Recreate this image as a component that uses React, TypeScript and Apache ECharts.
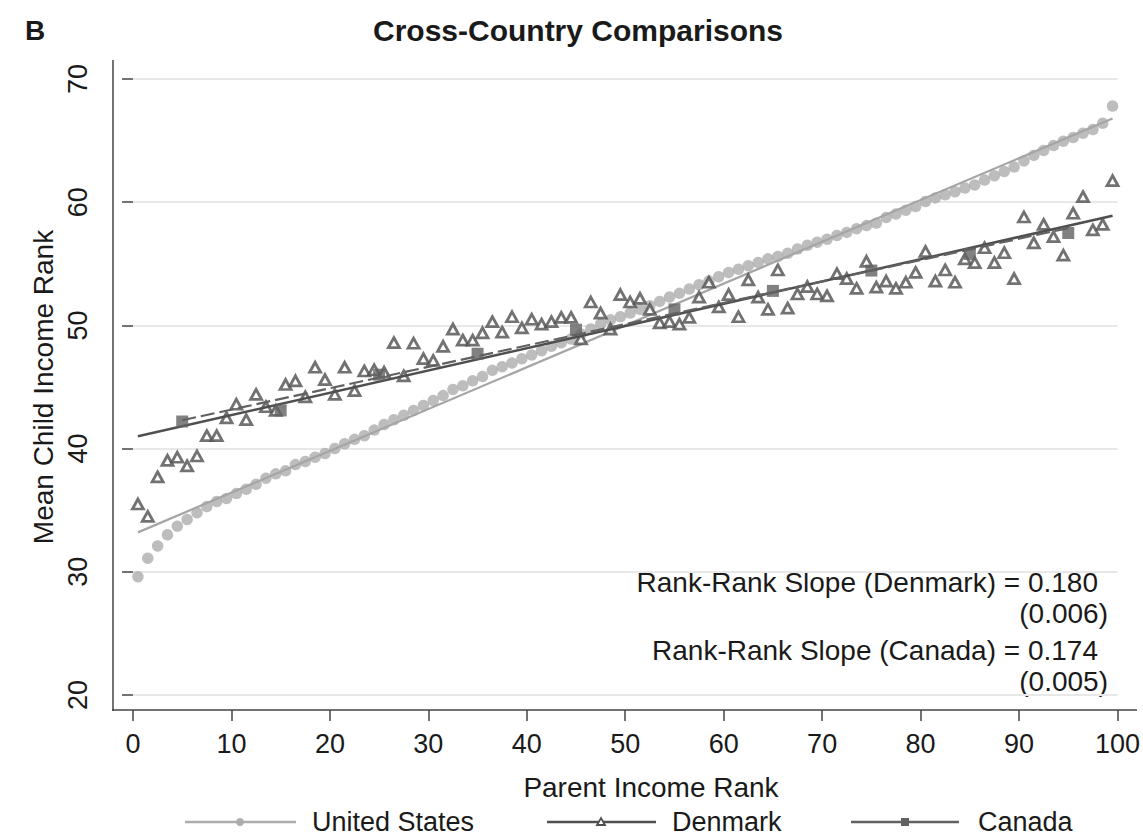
import React, { useEffect, useRef } from "react";
import * as echarts from "echarts";

// Parent income percentiles (plotted at bin mid-points)
const parentRanks: number[] = Array.from({ length: 100 }, (_, i) => i + 0.5);

const usValues: number[] = [
  29.6, 31.1, 32.1, 33.0, 33.7, 34.25, 34.8, 35.3, 35.7, 35.95,
  36.35, 36.7, 37.1, 37.6, 37.95, 38.2, 38.7, 38.95, 39.3, 39.6,
  40.0, 40.4, 40.75, 41.05, 41.5, 41.95, 42.35, 42.7, 43.1, 43.5,
  43.9, 44.3, 44.8, 45.1, 45.5, 45.85, 46.35, 46.65, 46.95, 47.3,
  47.6, 47.95, 48.3, 48.6, 48.9, 49.3, 49.7, 50.1, 50.45, 50.7,
  51.0, 51.3, 51.6, 51.95, 52.3, 52.6, 52.95, 53.3, 53.6, 53.95,
  54.3, 54.55, 54.85, 55.1, 55.4, 55.6, 55.85, 56.2, 56.5, 56.75,
  57.0, 57.3, 57.55, 57.85, 58.1, 58.3, 58.75, 59.05, 59.35, 59.65,
  60.05, 60.35, 60.6, 60.85, 61.15, 61.4, 61.8, 62.15, 62.5, 62.85,
  63.35, 63.8, 64.2, 64.6, 64.95, 65.25, 65.6, 65.9, 66.4, 67.8,
];

const denmarkValues: number[] = [
  35.5, 34.5, 37.7, 39.05, 39.3, 38.6, 39.4, 41.05, 41.05, 42.5,
  43.6, 42.35, 44.4, 43.4, 43.1, 45.2, 45.5, 44.2, 46.6, 45.6,
  44.4, 46.6, 44.7, 46.3, 46.4, 46.2, 48.6, 45.9, 48.55, 47.3,
  47.15, 48.3, 49.7, 48.8, 48.8, 49.4, 50.3, 49.45, 50.7, 49.8,
  50.5, 50.1, 50.3, 50.65, 50.65, 48.9, 51.9, 51.0, 49.7, 52.5,
  51.9, 52.2, 51.3, 50.2, 50.3, 50.1, 50.65, 52.3, 53.5, 51.5,
  52.5, 50.7, 53.7, 52.3, 51.3, 54.5, 51.4, 52.55, 53.15, 52.55,
  52.4, 54.2, 53.8, 53.0, 55.2, 53.1, 53.6, 53.0, 53.5, 54.3,
  56.0, 53.6, 54.5, 53.5, 55.4, 55.1, 56.3, 55.1, 55.9, 53.8,
  58.8, 56.7, 58.2, 57.2, 55.7, 59.1, 60.45, 57.75, 58.2, 61.75,
];

const canadaRanks: number[] = [5, 15, 25, 35, 45, 55, 65, 75, 85, 95];
const canadaValues: number[] = [42.2, 43.1, 46.0, 47.7, 49.65, 51.3, 52.8, 54.45, 55.8, 57.5];

// Fitted lines (end points)
const usFit: number[][] = [[0.5, 33.2], [99.5, 66.8]];
const denmarkFit: number[][] = [[0.5, 41.0], [99.5, 58.9]];
const canadaFit: number[][] = [[5, 42.3], [95, 57.9]];

const seriesNames: string[] = ["United States", "Denmark", "Canada"];
const titleText = "Cross-Country Comparisons";
const panelLetter = "B";
const xAxisTitle = "Parent Income Rank";
const yAxisTitle = "Mean Child Income Rank";
const annotations: string[] = [
  "Rank-Rank Slope (Denmark) = 0.180",
  "(0.006)",
  "Rank-Rank Slope (Canada) = 0.174",
  "(0.005)",
];

const FONT = "'Liberation Sans', Arial, Helvetica, sans-serif";
const US_COLOR = "#adadad";
const DK_COLOR = "#4f4f4f";
const CA_COLOR = "#616161";
const TEXT_COLOR = "#1a1a1a";

export default function App() {
  const ref = useRef<HTMLDivElement>(null);

  useEffect(() => {
    if (!ref.current) return;
    const chart = echarts.init(ref.current, undefined, { renderer: "svg" });

    const legendY = 822;
    const legendItems = [
      { x1: 185, x2: 296, mx: 240, tx: 312, color: US_COLOR, kind: "circle", name: seriesNames[0] },
      { x1: 547, x2: 656, mx: 601, tx: 672, color: DK_COLOR, kind: "triangle", name: seriesNames[1] },
      { x1: 851, x2: 959, mx: 905, tx: 978, color: CA_COLOR, kind: "square", name: seriesNames[2] },
    ];
    const legendGraphics: any[] = [];
    legendItems.forEach((it) => {
      legendGraphics.push({
        type: "line",
        shape: { x1: it.x1, y1: legendY, x2: it.x2, y2: legendY },
        style: { stroke: it.color, lineWidth: 2.5 },
      });
      if (it.kind === "circle") {
        legendGraphics.push({ type: "circle", shape: { cx: it.mx, cy: legendY, r: 4 }, style: { fill: it.color } });
      } else if (it.kind === "triangle") {
        legendGraphics.push({
          type: "polygon",
          shape: { points: [[it.mx - 4, legendY + 3], [it.mx + 4, legendY + 3], [it.mx, legendY - 4]] },
          style: { fill: "#fff", stroke: it.color, lineWidth: 1.8 },
        });
      } else {
        legendGraphics.push({ type: "rect", shape: { x: it.mx - 4, y: legendY - 4, width: 8, height: 8 }, style: { fill: it.color } });
      }
      legendGraphics.push({
        type: "text",
        x: it.tx,
        y: legendY,
        style: { text: it.name, font: `27px ${FONT}`, fill: TEXT_COLOR, textAlign: "left", textVerticalAlign: "middle" },
      });
    });

    const option: any = {
      animation: false,
      backgroundColor: "#ffffff",
      grid: { left: 133, right: 25, top: 79, bottom: 141, containLabel: false },
      xAxis: {
        type: "value",
        min: 0,
        max: 100,
        interval: 10,
        offset: 15,
        axisLine: { show: false },
        axisTick: { show: true, length: 11, lineStyle: { color: "#444", width: 1.5 } },
        axisLabel: { margin: 20, fontSize: 27, fontFamily: FONT, color: TEXT_COLOR },
        splitLine: { show: false },
      },
      yAxis: {
        type: "value",
        min: 20,
        max: 70,
        interval: 10,
        offset: 20,
        axisLine: { show: false },
        axisTick: { show: true, length: 11, lineStyle: { color: "#444", width: 1.5 } },
        axisLabel: { margin: 22, fontSize: 27, fontFamily: FONT, color: TEXT_COLOR, rotate: 90 },
        splitLine: { show: true, lineStyle: { color: "#e8e8e8", width: 2 } },
      },
      series: [
        {
          name: seriesNames[0],
          type: "scatter",
          data: parentRanks.map((r, i) => [r, usValues[i]]),
          symbol: "circle",
          symbolSize: 11.5,
          itemStyle: { color: US_COLOR },
          z: 2,
        },
        {
          name: seriesNames[0] + " fit",
          type: "line",
          data: usFit,
          showSymbol: false,
          symbol: "none",
          lineStyle: { color: "#a5a5a5", width: 2.2 },
          z: 3,
        },
        {
          name: seriesNames[1],
          type: "scatter",
          data: parentRanks.map((r, i) => [r, denmarkValues[i]]),
          symbol: "triangle",
          symbolSize: [11, 10],
          itemStyle: { color: "#ffffff", borderColor: DK_COLOR, borderWidth: 2.8 },
          z: 4,
        },
        {
          name: seriesNames[1] + " fit",
          type: "line",
          data: denmarkFit,
          showSymbol: false,
          symbol: "none",
          lineStyle: { color: DK_COLOR, width: 2.5 },
          z: 5,
        },
        {
          name: seriesNames[2],
          type: "scatter",
          data: canadaRanks.map((r, i) => [r, canadaValues[i]]),
          symbol: "rect",
          symbolSize: 12,
          itemStyle: { color: CA_COLOR },
          z: 6,
        },
        {
          name: seriesNames[2] + " fit",
          type: "line",
          data: canadaFit,
          showSymbol: false,
          symbol: "none",
          lineStyle: { color: CA_COLOR, width: 2.2, type: [14, 5] },
          z: 7,
        },
      ],
      graphic: [
        // axis frame lines
        { type: "line", shape: { x1: 113, y1: 60, x2: 113, y2: 711 }, style: { stroke: "#444", lineWidth: 1.5 } },
        { type: "line", shape: { x1: 112, y1: 710, x2: 1137, y2: 710 }, style: { stroke: "#444", lineWidth: 1.5 } },
        {
          type: "text", x: 25, y: 30,
          style: { text: panelLetter, font: `bold 28px ${FONT}`, fill: TEXT_COLOR, textVerticalAlign: "middle" },
        },
        {
          type: "text", x: 578, y: 30,
          style: { text: titleText, font: `bold 30px ${FONT}`, fill: TEXT_COLOR, textAlign: "center", textVerticalAlign: "middle" },
        },
        {
          type: "text", x: 651, y: 787,
          style: { text: xAxisTitle, font: `28px ${FONT}`, fill: TEXT_COLOR, textAlign: "center", textVerticalAlign: "middle" },
        },
        {
          type: "text", x: 43, y: 387, rotation: Math.PI / 2,
          style: { text: yAxisTitle, font: `28px ${FONT}`, fill: TEXT_COLOR, textAlign: "center", textVerticalAlign: "middle" },
        },
        {
          type: "text", x: 1098, y: 582,
          style: { text: annotations[0], font: `28px ${FONT}`, fill: TEXT_COLOR, textAlign: "right", textVerticalAlign: "middle" },
        },
        {
          type: "text", x: 1108, y: 613,
          style: { text: annotations[1], font: `28px ${FONT}`, fill: TEXT_COLOR, textAlign: "right", textVerticalAlign: "middle" },
        },
        {
          type: "text", x: 1098, y: 650,
          style: { text: annotations[2], font: `28px ${FONT}`, fill: TEXT_COLOR, textAlign: "right", textVerticalAlign: "middle" },
        },
        {
          type: "text", x: 1108, y: 681,
          style: { text: annotations[3], font: `28px ${FONT}`, fill: TEXT_COLOR, textAlign: "right", textVerticalAlign: "middle" },
        },
        ...legendGraphics,
      ],
    };

    chart.setOption(option);
    return () => chart.dispose();
  }, []);

  return (
    <div
      ref={ref}
      style={{ position: "fixed", left: 0, top: 0, width: 1143, height: 836, background: "#fff" }}
    />
  );
}
